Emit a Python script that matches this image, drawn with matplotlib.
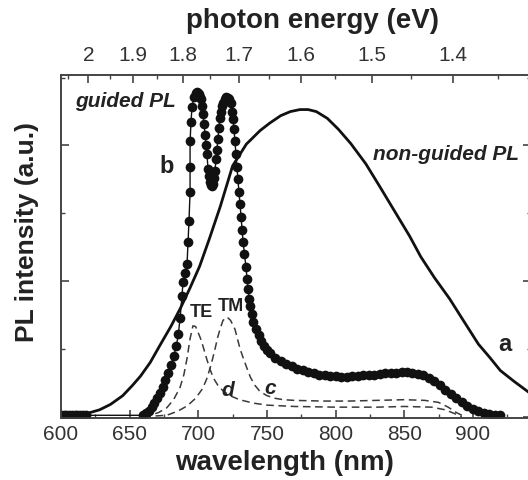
import numpy as np
import matplotlib
matplotlib.use("Agg")
import matplotlib.pyplot as plt

plt.rcParams['font.family'] = ['Liberation Sans', 'DejaVu Sans']

# curve a: non-guided PL (solid line)
wl_a = [600, 616, 628, 636, 645, 652, 658, 665, 672, 680, 687, 694, 701, 708,
        716, 725, 735, 745, 752, 760, 767, 774, 780, 786, 794, 802, 811, 822,
        832, 843, 854, 862, 872, 883, 893, 904, 912, 920, 930, 940]
int_a = [0.01, 0.03, 0.10, 0.18, 0.31, 0.46, 0.60, 0.80, 1.05, 1.33, 1.60, 1.90,
         2.22, 2.62, 3.10, 3.70, 4.02, 4.22, 4.33, 4.44, 4.50, 4.53, 4.53, 4.50,
         4.40, 4.24, 4.03, 3.73, 3.40, 3.03, 2.66, 2.36, 2.05, 1.74, 1.42, 1.07,
         0.88, 0.68, 0.52, 0.37]

# curve b: guided PL (dots)
wl_b = [600, 602, 604, 606, 608, 610, 612, 614, 616, 618,
        660, 662, 664, 666, 668, 670, 672, 674, 676, 678, 680, 682, 684, 685.5,
        686.7, 688.1, 688.9, 690.5, 691.8, 692.5, 693.2, 694.0, 694.0, 694.0,
        694.7, 695.4, 696.9, 698.0, 699.0, 700.0, 700.5, 701.3, 702.0, 702.7,
        703.4, 704.2, 704.9, 705.6, 706.3, 707.1, 707.8, 708.5, 709.2, 710.0,
        710.7, 711.4, 712.1, 712.9, 713.6, 714.3, 715.0, 715.8, 716.5, 717.3,
        718.3, 719.4, 720.5, 721.6, 722.7, 723.8, 724.5, 725.3, 726.0, 726.7,
        727.5, 728.2, 728.9, 729.6, 730.4, 731.1, 731.9, 732.6, 733.6, 734.7,
        735.5, 736.2, 737.0, 738.0, 739.0, 740, 742, 744, 746, 748, 750, 752,
        756, 760, 764, 768, 772, 776, 780, 784, 788, 792,
        796, 800, 804, 808, 812, 816, 820, 824, 828, 832,
        836, 840, 844, 848, 852, 856, 860, 864, 868, 872,
        876, 880, 884, 888, 892, 896, 900, 904, 908, 912,
        916, 920]
int_b = [0.03, 0.03, 0.03, 0.03, 0.03, 0.03, 0.03, 0.03, 0.02, 0.02,
         0.02, 0.05, 0.09, 0.14, 0.20, 0.27, 0.35, 0.44, 0.54, 0.64, 0.76, 0.89,
         1.04, 1.22,
         1.45, 1.78, 1.99, 2.12, 2.25, 2.57, 2.88, 3.31, 3.69, 4.06,
         4.35, 4.57, 4.72, 4.77, 4.79, 4.78, 4.76, 4.72, 4.68, 4.58,
         4.46, 4.31, 4.16, 4.01, 3.87, 3.65, 3.55, 3.46, 3.41, 3.40,
         3.43, 3.52, 3.62, 3.80, 3.94, 4.10, 4.26, 4.40, 4.50, 4.58,
         4.63, 4.68, 4.71, 4.70, 4.68, 4.62, 4.50, 4.39, 4.24, 4.06,
         3.87, 3.68, 3.50, 3.31, 3.13, 2.95, 2.76, 2.58, 2.40, 2.21,
         2.03, 1.88, 1.74, 1.63, 1.52, 1.40, 1.30, 1.20, 1.12, 1.04, 0.99, 0.94,
         0.87, 0.82, 0.78, 0.74, 0.71, 0.69, 0.66, 0.64, 0.62, 0.61,
         0.60, 0.60, 0.59, 0.59, 0.60, 0.60, 0.61, 0.61, 0.62, 0.63,
         0.64, 0.65, 0.65, 0.66, 0.66, 0.65, 0.63, 0.61, 0.57, 0.52,
         0.46, 0.39, 0.33, 0.27, 0.21, 0.15, 0.11, 0.08, 0.06, 0.04,
         0.03, 0.02]

# curve c: TM (dashed)
wl_c = [660, 677, 685, 692, 698, 703, 706, 708.5, 710.5, 712.2, 714, 715.8,
        718, 720.9, 723.5, 726.7, 728.5, 730.4, 733, 735.5, 738, 741.3, 745,
        750, 756, 762, 770, 790, 810, 830, 850, 865, 875, 882, 888, 894]
int_c = [0.0, 0.02, 0.08, 0.16, 0.27, 0.41, 0.55, 0.71, 0.86, 1.00, 1.16, 1.29,
         1.42, 1.47, 1.42, 1.29, 1.15, 1.00, 0.85, 0.71, 0.58, 0.46, 0.37,
         0.31, 0.27, 0.25, 0.24, 0.23, 0.23, 0.24, 0.25, 0.24, 0.21, 0.14,
         0.06, 0.0]

# curve d: TE (dashed)
wl_d = [660, 665, 671, 677, 682, 686.7, 689.5, 691.8, 694, 696.1, 698, 699.5,
        701.5, 703.4, 706, 708.5, 711, 714, 718, 723, 730, 740, 750, 770, 800,
        830, 850, 870, 880, 886, 892]
int_d = [0.0, 0.02, 0.06, 0.13, 0.25, 0.43, 0.62, 0.86, 1.15, 1.34, 1.33, 1.26,
         1.16, 1.04, 0.86, 0.70, 0.57, 0.47, 0.38, 0.31, 0.25, 0.20, 0.17, 0.15,
         0.14, 0.14, 0.15, 0.14, 0.10, 0.05, 0.0]

xticks = [600, 650, 700, 750, 800, 850, 900]
eticks = [2.0, 1.9, 1.8, 1.7, 1.6, 1.5, 1.4]
elabels = ['2', '1.9', '1.8', '1.7', '1.6', '1.5', '1.4']
eminor = [2.05, 1.95, 1.85, 1.75, 1.65, 1.55, 1.45, 1.35]

axcol = '#444444'
fig = plt.figure(figsize=(5.28, 4.8), dpi=100)
ax = fig.add_axes([61/528, 62/480, 470/528, 343/480])
xmax = 600 + 470/1.373

ax.plot(wl_a, int_a, '-', color='#111111', lw=2.0, zorder=3)
ax.plot(wl_c, int_c, '--', color='#3a3a3a', lw=1.1, dashes=(5, 3), zorder=2)
ax.plot(wl_d, int_d, '--', color='#3a3a3a', lw=1.1, dashes=(5, 3), zorder=2)
ax.plot(wl_b, int_b, '-', color='#111111', lw=1.0, zorder=4)
ax.plot(wl_b, int_b, 'o', color='#111111', ms=7.0, mew=0, zorder=4)

ax.set_xlim(600, xmax)
ax.set_ylim(-0.02, 5.04)
ax.set_xticks(xticks)
ax.set_xticks(np.arange(625, 940, 50), minor=True)
ax.set_yticks([0, 2, 4])
ax.set_yticks([1, 3, 5], minor=True)
ax.set_yticklabels([])
ax.tick_params(which='both', direction='in', color=axcol, right=True,
               labelsize=15, labelcolor='#333333', pad=5)
ax.tick_params(which='major', length=6, width=1.2)
ax.tick_params(which='minor', length=3, width=1.0)
for s in ax.spines.values():
    s.set_color(axcol)
    s.set_linewidth(1.2)
ax.spines['right'].set_visible(False)

ax2 = ax.twiny()
ax2.set_xlim(600, xmax)
ax2.set_xticks([1239.84 / e for e in eticks])
ax2.set_xticklabels(elabels)
ax2.set_xticks([1239.84 / e for e in eminor], minor=True)
ax2.tick_params(which='both', direction='in', color=axcol,
                labelsize=15, labelcolor='#333333', pad=7)
ax2.tick_params(which='major', length=6, width=1.2)
ax2.tick_params(which='minor', length=3, width=1.0)
for s in ax2.spines.values():
    s.set_color(axcol)
    s.set_linewidth(1.2)
ax2.spines['right'].set_visible(False)

fig.text(285/528, 1 - 463/480, 'wavelength (nm)', ha='center', va='center',
         fontsize=20, fontweight='bold', color='#222222')
fig.text(312/528, 1 - 21/480, 'photon energy (eV)', ha='center', va='center',
         fontsize=20, fontweight='bold', color='#222222')
fig.text(27/528, 1 - 232/480, 'PL intensity (a.u.)', ha='center', va='center',
         rotation=90, fontsize=19, fontweight='bold', color='#222222')

ax.text(610, 4.65, 'guided PL', ha='left', va='center', fontsize=15,
        fontweight='bold', style='italic', color='#222222')
ax.text(827, 3.87, 'non-guided PL', ha='left', va='center', fontsize=15,
        fontweight='bold', style='italic', color='#222222')
ax.text(677, 3.69, 'b', ha='center', va='center', fontsize=17,
        fontweight='bold', color='#222222')
ax.text(923, 1.07, 'a', ha='center', va='center', fontsize=17,
        fontweight='bold', color='#222222')
ax.text(702.5, 1.54, 'TE', ha='center', va='center', fontsize=13,
        fontweight='bold', color='#222222')
ax.text(724, 1.63, 'TM', ha='center', va='center', fontsize=13,
        fontweight='bold', color='#222222')
ax.text(721.5, 0.38, 'd', ha='center', va='center', fontsize=15,
        fontweight='bold', style='italic', color='#222222')
ax.text(752, 0.42, 'c', ha='center', va='center', fontsize=15,
        fontweight='bold', style='italic', color='#222222')

fig.savefig('out.png', dpi=100)
